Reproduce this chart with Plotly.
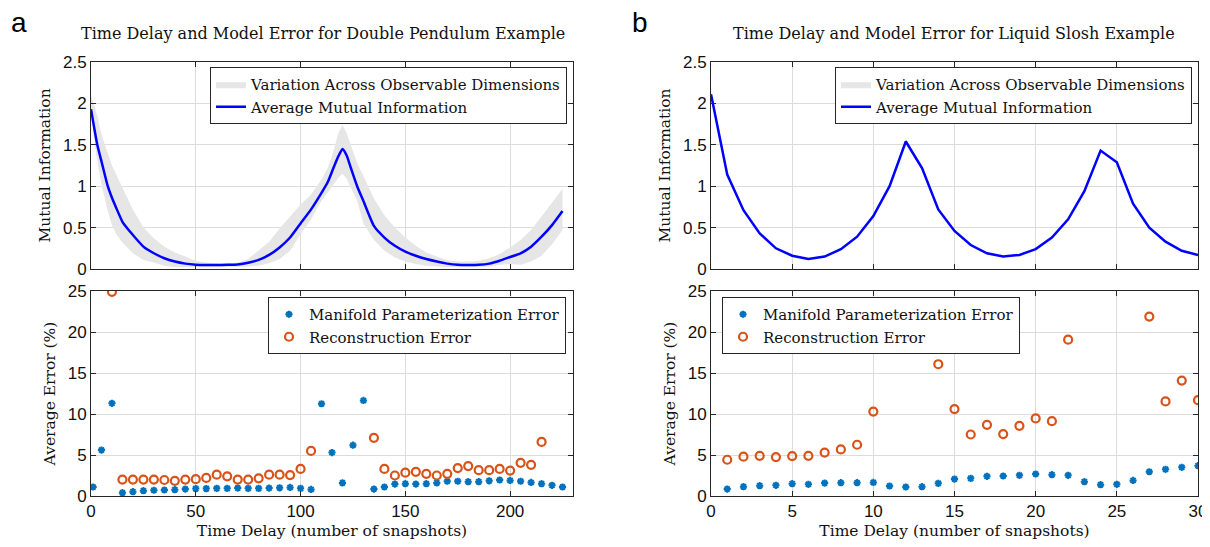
import plotly.graph_objects as go

# ---------------- Panel a (double pendulum) ----------------
a_mi_x = [0, 3, 5, 8, 10, 12, 15, 17, 20, 25, 30, 35, 40, 45, 50, 55, 60, 65, 70, 75,
          80, 85, 90, 95, 100, 105, 110, 113, 116, 118, 120, 122, 124, 127, 130, 135,
          140, 145, 150, 155, 160, 165, 170, 175, 180, 185, 190, 195, 200, 205, 210,
          215, 220, 225]
a_mi_mean = [1.93, 1.50, 1.30, 1.00, 0.86, 0.74, 0.57, 0.50, 0.41, 0.27, 0.19, 0.13, 0.09,
             0.065, 0.052, 0.048, 0.048, 0.05, 0.055, 0.075,
             0.11, 0.17, 0.26, 0.38, 0.55, 0.72, 0.92, 1.05, 1.24, 1.36, 1.45, 1.37, 1.22,
             1.00, 0.82, 0.52,
             0.38, 0.28, 0.21, 0.16, 0.12, 0.09, 0.065, 0.05, 0.048, 0.05, 0.065, 0.10,
             0.145, 0.19, 0.27, 0.39, 0.53, 0.70]
a_mi_upper = [2.10, 1.85, 1.62, 1.38, 1.25, 1.14, 0.98, 0.88, 0.72, 0.50, 0.37, 0.27, 0.20,
              0.15, 0.10, 0.08, 0.07, 0.07, 0.08, 0.12,
              0.22, 0.33, 0.49, 0.64, 0.78, 0.90, 1.08, 1.22, 1.45, 1.64, 1.74, 1.64, 1.50,
              1.28, 1.12, 0.85,
              0.65, 0.50, 0.38, 0.28, 0.20, 0.15, 0.11, 0.09, 0.09, 0.10, 0.13, 0.18,
              0.26, 0.35, 0.47, 0.63, 0.80, 0.97]
a_mi_lower = [1.85, 1.30, 1.02, 0.70, 0.53, 0.42, 0.32, 0.27, 0.19, 0.11, 0.08, 0.04, 0.025,
              0.02, 0.02, 0.02, 0.02, 0.02, 0.025, 0.03,
              0.04, 0.07, 0.12, 0.22, 0.42, 0.60, 0.82, 0.93, 1.03, 1.10, 1.15, 1.09, 0.97,
              0.82, 0.55, 0.35,
              0.22, 0.14, 0.09, 0.06, 0.04, 0.03, 0.025, 0.02, 0.02, 0.02, 0.03, 0.05,
              0.06, 0.05, 0.09, 0.16, 0.30, 0.47]

a_err_x = [1, 5, 10, 15, 20, 25, 30, 35, 40, 45, 50, 55, 60, 65, 70, 75, 80, 85, 90, 95,
           100, 105, 110, 115, 120, 125, 130, 135, 140, 145, 150, 155, 160, 165, 170, 175,
           180, 185, 190, 195, 200, 205, 210, 215, 220, 225]
a_manifold = [1.1, 5.6, 11.3, 0.4, 0.53, 0.65, 0.7, 0.73, 0.77, 0.85, 0.9, 0.9, 0.93, 0.93,
              0.97, 0.93, 0.93, 0.97, 1.0, 1.05, 0.93, 0.8, 11.25, 5.3, 1.6, 6.2, 11.65,
              0.85, 1.1, 1.45, 1.5, 1.45, 1.5, 1.6, 1.8, 1.8, 1.75, 1.75, 1.85, 1.95, 1.9,
              1.8, 1.65, 1.5, 1.3, 1.1]
a_rec_x = [10, 15, 20, 25, 30, 35, 40, 45, 50, 55, 60, 65, 70, 75, 80, 85, 90, 95, 100,
           105, 135, 140, 145, 150, 155, 160, 165, 170, 175, 180, 185, 190, 195, 200, 205,
           210, 215]
a_reconstruction = [24.9, 2.0, 2.0, 2.0, 2.0, 1.95, 1.85, 2.0, 2.05, 2.2, 2.6, 2.4, 2.0,
                    2.0, 2.15, 2.6, 2.6, 2.55, 3.3, 5.5, 7.1, 3.3, 2.5, 2.85, 2.95, 2.7,
                    2.5, 2.7, 3.4, 3.65, 3.15, 3.15, 3.3, 3.1, 4.05, 3.8, 6.6]

# ---------------- Panel b (liquid slosh) ----------------
b_mi_x = list(range(0, 31))
b_mi_mean = [2.11, 1.14, 0.71, 0.43, 0.25, 0.16, 0.12, 0.15, 0.24, 0.39, 0.64, 1.00, 1.54,
             1.22, 0.72, 0.46, 0.29, 0.19, 0.15, 0.17, 0.24, 0.38, 0.60, 0.94, 1.43, 1.29,
             0.79, 0.50, 0.33, 0.22, 0.17]
b_mi_upper = [2.12, 1.15, 0.72, 0.44, 0.26, 0.17, 0.13, 0.16, 0.25, 0.40, 0.65, 1.02, 1.58,
              1.23, 0.73, 0.47, 0.30, 0.20, 0.16, 0.18, 0.25, 0.39, 0.61, 0.95, 1.45, 1.30,
              0.80, 0.51, 0.34, 0.23, 0.18]
b_mi_lower = [2.10, 1.13, 0.70, 0.42, 0.24, 0.15, 0.11, 0.14, 0.23, 0.38, 0.63, 0.99, 1.52,
              1.21, 0.71, 0.45, 0.28, 0.18, 0.14, 0.16, 0.23, 0.37, 0.59, 0.93, 1.41, 1.28,
              0.78, 0.49, 0.32, 0.21, 0.16]

b_err_x = list(range(1, 31))
b_manifold = [0.85, 1.14, 1.26, 1.3, 1.5, 1.42, 1.58, 1.62, 1.62, 1.66, 1.22, 1.1, 1.14,
              1.54, 2.07, 2.15, 2.4, 2.44, 2.52, 2.68, 2.6, 2.52, 1.75, 1.38, 1.42, 1.9,
              2.96, 3.25, 3.5, 3.7]
b_rec_x = [1, 2, 3, 4, 5, 6, 7, 8, 9, 10, 14, 15, 16, 17, 18, 19, 20, 21, 22, 27, 28, 29, 30]
b_reconstruction = [4.42, 4.8, 4.9, 4.75, 4.87, 4.9, 5.3, 5.68, 6.25, 10.3, 16.07, 10.6,
                    7.5, 8.68, 7.55, 8.56, 9.46, 9.13, 19.07, 21.88, 11.53, 14.08, 11.69]

titles = ["Time Delay and Model Error for Double Pendulum Example",
          "Time Delay and Model Error for Liquid Slosh Example"]
band_name = "Variation Across Observable Dimensions"
mean_name = "Average Mutual Information"
man_name = "Manifold Parameterization Error"
rec_name = "Reconstruction Error"

SERIF = "DejaVu Serif"
SANS = "Liberation Sans, Arial, sans-serif"
BAND = "#e6e6e6"
BLUE = "#0000ff"
MBLUE = "#0072BD"
ORANGE = "#D95319"
AX = "#262626"

# the page body adds an 8px margin; size the figure so it fills the 1210x547 window
OFF = 8
FW, FH = 1210 - OFF, 547 - OFF
fig = go.Figure()


def band(x, up, lo, xa, ya, leg):
    fig.add_trace(go.Scatter(
        x=list(x) + list(x)[::-1], y=list(up) + list(lo)[::-1],
        fill="toself", fillcolor=BAND, line=dict(width=0, color=BAND),
        mode="lines", name=band_name, xaxis=xa, yaxis=ya, legend=leg,
        hoverinfo="skip"))


band(a_mi_x, a_mi_upper, a_mi_lower, "x", "y", "legend")
fig.add_trace(go.Scatter(x=a_mi_x, y=a_mi_mean, mode="lines", name=mean_name,
                         line=dict(color=BLUE, width=2.5, shape="spline", smoothing=0.5),
                         xaxis="x", yaxis="y", legend="legend"))
fig.add_trace(go.Scatter(x=a_err_x, y=a_manifold, mode="markers", name=man_name,
                         marker=dict(symbol="asterisk-open", size=6, color=MBLUE,
                                     line=dict(color=MBLUE, width=2)),
                         xaxis="x2", yaxis="y2", legend="legend2"))
fig.add_trace(go.Scatter(x=a_rec_x, y=a_reconstruction, mode="markers", name=rec_name,
                         marker=dict(symbol="circle-open", size=8, color=ORANGE,
                                     line=dict(color=ORANGE, width=2.2)),
                         xaxis="x2", yaxis="y2", legend="legend2"))

band(b_mi_x, b_mi_upper, b_mi_lower, "x3", "y3", "legend3")
fig.add_trace(go.Scatter(x=b_mi_x, y=b_mi_mean, mode="lines", name=mean_name,
                         line=dict(color=BLUE, width=2.5),
                         xaxis="x3", yaxis="y3", legend="legend3"))
fig.add_trace(go.Scatter(x=b_err_x, y=b_manifold, mode="markers", name=man_name,
                         marker=dict(symbol="asterisk-open", size=6, color=MBLUE,
                                     line=dict(color=MBLUE, width=2)),
                         xaxis="x4", yaxis="y4", legend="legend4"))
fig.add_trace(go.Scatter(x=b_rec_x, y=b_reconstruction, mode="markers", name=rec_name,
                         marker=dict(symbol="circle-open", size=8, color=ORANGE,
                                     line=dict(color=ORANGE, width=2.2)),
                         xaxis="x4", yaxis="y4", legend="legend4"))

# geometry (window pixels)
ax_a = (91, 573)
ax_b = (711, 1198)
y_top = (62, 269)
y_bot = (291, 496)


def px_x(p):
    return (p - OFF) / FW


def px_y(p):
    return 1 - (p - OFF) / FH


def xd(p):
    return [px_x(p[0]), px_x(p[1])]


def yd(p):
    return [px_y(p[1]), px_y(p[0])]


def axis_common():
    return dict(showline=True, linecolor=AX, linewidth=1, mirror="allticks",
                ticks="inside", ticklen=5, tickcolor=AX, showgrid=True,
                gridcolor="#dcdcdc", gridwidth=1, zeroline=False, automargin=False,
                tickfont=dict(family=SANS, size=17, color="#111"))


TF = dict(family=SERIF, size=15.5, color="#111")
xt = dict(text="Time Delay (number of snapshots)", font=TF, standoff=4)

fig.update_layout(
    width=FW, height=FH, margin=dict(l=0, r=0, t=0, b=0, autoexpand=False),
    paper_bgcolor="white", plot_bgcolor="white", showlegend=True,
    xaxis=dict(domain=xd(ax_a), range=[0, 230], tickvals=[0, 50, 100, 150, 200],
               showticklabels=False, anchor="y", **axis_common()),
    yaxis=dict(domain=yd(y_top), range=[0, 2.5], dtick=0.5, anchor="x",
               title=dict(text="Mutual Information", font=TF, standoff=8), **axis_common()),
    xaxis2=dict(domain=xd(ax_a), range=[0, 230], tickvals=[0, 50, 100, 150, 200],
                anchor="y2", title=xt, **axis_common()),
    yaxis2=dict(domain=yd(y_bot), range=[0, 25], dtick=5, anchor="x2",
                title=dict(text="Average Error (%)", font=TF, standoff=8), **axis_common()),
    xaxis3=dict(domain=xd(ax_b), range=[0, 30], dtick=5, showticklabels=False,
                anchor="y3", **axis_common()),
    yaxis3=dict(domain=yd(y_top), range=[0, 2.5], dtick=0.5, anchor="x3",
                title=dict(text="Mutual Information", font=TF, standoff=8), **axis_common()),
    xaxis4=dict(domain=xd(ax_b), range=[0, 30], dtick=5, anchor="y4", title=xt,
                **axis_common()),
    yaxis4=dict(domain=yd(y_bot), range=[0, 25], dtick=5, anchor="x4",
                title=dict(text="Average Error (%)", font=TF, standoff=8), **axis_common()),
)

leg_common = dict(bgcolor="white", bordercolor=AX, borderwidth=1,
                  font=dict(family=SERIF, size=15, color="#111"),
                  tracegroupgap=0, itemwidth=30, yanchor="top")
fig.update_layout(
    legend=dict(x=px_x(567), xanchor="right", y=px_y(67), **leg_common),
    legend2=dict(x=px_x(566), xanchor="right", y=px_y(297), **leg_common),
    legend3=dict(x=px_x(1192), xanchor="right", y=px_y(67), **leg_common),
    legend4=dict(x=px_x(722), xanchor="left", y=px_y(297), **leg_common),
)

for text, cx in ((titles[0], 323), (titles[1], 954)):
    fig.add_annotation(text=text, xref="paper", yref="paper", x=px_x(cx), y=px_y(34),
                       showarrow=False, xanchor="center", yanchor="middle",
                       font=dict(family=SERIF, size=16, color="#111"))
for lab, cx in (("a", 19), ("b", 640)):
    fig.add_annotation(text=lab, xref="paper", yref="paper", x=px_x(cx), y=px_y(22),
                       showarrow=False, xanchor="center", yanchor="middle",
                       font=dict(family="Liberation Sans, Arial", size=28, color="black"))

fig.write_html("out.html")
